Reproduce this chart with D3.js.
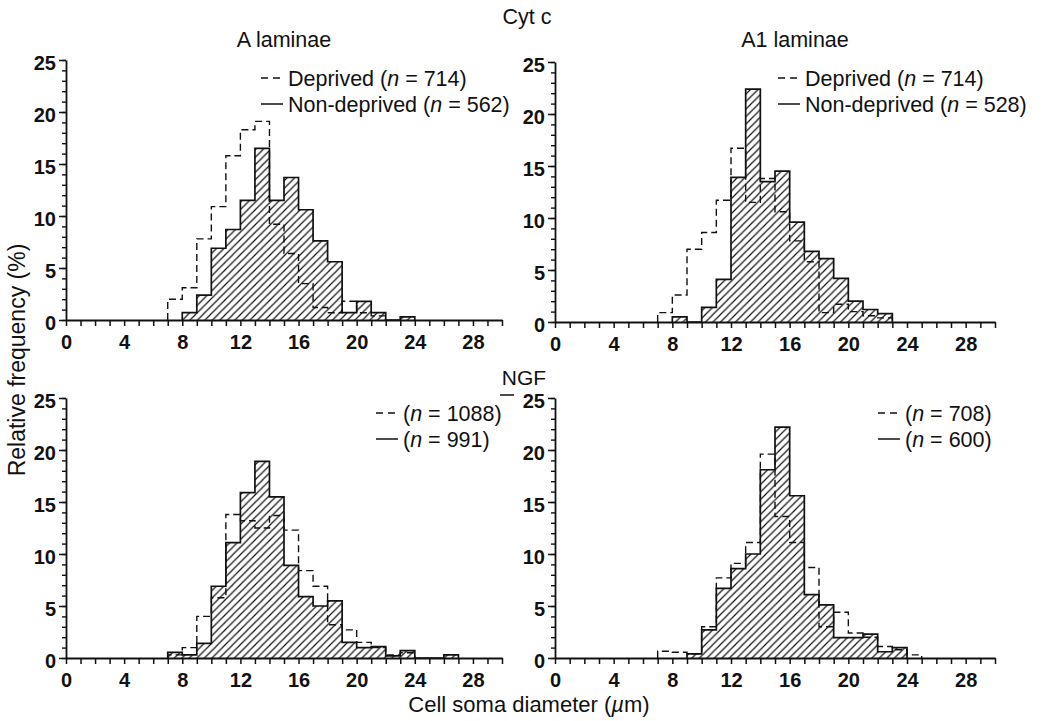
<!DOCTYPE html>
<html><head><meta charset="utf-8">
<script src="https://cdn.jsdelivr.net/npm/d3@7/dist/d3.min.js"></script>
<style>
body{margin:0;background:#fff}
text{font-family:"Liberation Sans",Arial,Helvetica,sans-serif;fill:#111}
</style></head>
<body><svg id="chart" width="1043" height="721"></svg>
<script>
// ---------- data (relative frequency %, 1-µm bins; first value belongs to bin starting at *Start) ----------
const xTickLabels = [0, 4, 8, 12, 16, 20, 24, 28];
const yTickLabels = [0, 5, 10, 15, 20, 25];

// Cyt c, A laminae
const cytA_nonStart = 8;
const cytA_non = [0.7, 2.4, 6.9, 8.7, 11.5, 16.5, 11.5, 13.7, 10.6, 7.6, 5.6, 0.7, 1.8, 0.7, 0, 0.3];
const cytA_depStart = 7;
const cytA_dep = [2.0, 3.1, 7.8, 10.9, 15.8, 18.3, 19.1, 9.2, 6.4, 3.5, 1.2, 0.7, 1.8, 0.7, 0.4];

// Cyt c, A1 laminae
const cytA1_nonStart = 8;
const cytA1_non = [0.5, 0, 1.4, 4.1, 13.9, 22.4, 13.5, 14.5, 9.6, 6.8, 6.1, 4.2, 2.0, 1.2, 0.8];
const cytA1_depStart = 7;
const cytA1_dep = [0.9, 2.6, 7.0, 8.6, 11.7, 16.7, 11.5, 13.8, 10.6, 7.8, 5.8, 0.9, 1.7, 1.0, 0.6, 0.4];

// NGF, A laminae
const ngfA_nonStart = 7;
const ngfA_non = [0.55, 0.3, 1.4, 6.9, 11.1, 15.9, 18.9, 15.5, 8.9, 5.9, 5.0, 5.5, 1.5, 1.0, 1.1, 0.2, 0.7, 0, 0, 0.3];
const ngfA_depStart = 7;
const ngfA_dep = [0.3, 1.0, 4.0, 5.8, 13.8, 13.2, 12.5, 13.7, 12.3, 8.4, 6.9, 3.2, 2.7, 1.5, 1.0, 0.3, 0.5];

// NGF, A1 laminae
const ngfA1_nonStart = 9;
const ngfA1_non = [0.4, 2.7, 6.7, 8.6, 10.0, 18.1, 22.2, 15.6, 6.1, 5.1, 1.95, 1.95, 2.3, 0.6, 1.0];
const ngfA1_depStart = 7;
const ngfA1_dep = [0.65, 0.55, 0.4, 3.0, 7.7, 9.1, 11.1, 19.6, 13.6, 11.1, 8.7, 3.0, 4.4, 2.4, 2.0, 1.1, 0.8, 0.3];

const legendA_cyt  = [["Deprived (", "n", " = 714)"], ["Non-deprived (", "n", " = 562)"]];
const legendA1_cyt = [["Deprived (", "n", " = 714)"], ["Non-deprived (", "n", " = 528)"]];
const legendA_ngf  = [["(", "n", " = 1088)"], ["(", "n", " = 991)"]];
const legendA1_ngf = [["(", "n", " = 708)"], ["(", "n", " = 600)"]];

// ---------- layout ----------
const panels = [
  {xr:[66,502],  yr:[320,60],  non:cytA_non,  ns:cytA_nonStart,  dep:cytA_dep,  ds:cytA_depStart,  leg:legendA_cyt,  lx:261, ly:78},
  {xr:[555,995], yr:[322,62],  non:cytA1_non, ns:cytA1_nonStart, dep:cytA1_dep, ds:cytA1_depStart, leg:legendA1_cyt, lx:778, ly:78},
  {xr:[66,502],  yr:[658,398], non:ngfA_non,  ns:ngfA_nonStart,  dep:ngfA_dep,  ds:ngfA_depStart,  leg:legendA_ngf,  lx:376, ly:413},
  {xr:[555,995], yr:[658,398], non:ngfA1_non, ns:ngfA1_nonStart, dep:ngfA1_dep, ds:ngfA1_depStart, leg:legendA1_ngf, lx:878, ly:413}
];

const svg = d3.select("#chart");
const defs = svg.append("defs");
const pat = defs.append("pattern").attr("id","hatch").attr("patternUnits","userSpaceOnUse")
  .attr("width",7.5).attr("height",7.5);
pat.append("path").attr("d","M-2,2 L2,-2 M0,7.5 L7.5,0 M5.5,9.5 L9.5,5.5")
  .attr("stroke","#111").attr("stroke-width",1.2).attr("fill","none");

function stepPoints(start, vals){
  const pts = [{b:start, v:0}];
  vals.forEach((v,i)=>pts.push({b:start+i, v:v}));
  pts.push({b:start+vals.length, v:0});
  return pts;
}

panels.forEach(p=>{
  const x = d3.scaleLinear().domain([0,30]).range(p.xr);
  const y = d3.scaleLinear().domain([0,25]).range(p.yr);
  const g = svg.append("g");

  const line = d3.line().x(d=>x(d.b)).y(d=>y(d.v)).curve(d3.curveStepAfter);

  // non-deprived: hatched, solid outline
  g.append("path").attr("d", line(stepPoints(p.ns,p.non)) + "Z")
    .attr("fill","url(#hatch)").attr("stroke","none");
  g.append("path").attr("d", line(stepPoints(p.ns,p.non)))
    .attr("fill","none").attr("stroke","#111").attr("stroke-width",1.7);
  // deprived: dashed outline
  g.append("path").attr("d", line(stepPoints(p.ds,p.dep)))
    .attr("fill","none").attr("stroke","#111").attr("stroke-width",1.4)
    .attr("stroke-dasharray","7,4");

  // x axis
  const xa = g.append("g").attr("transform",`translate(0,${p.yr[0]})`)
    .call(d3.axisBottom(x).tickValues(d3.range(0,31)).tickSize(6).tickSizeOuter(0)
      .tickPadding(9).tickFormat(d=> xTickLabels.includes(d) ? d : ""));
  xa.select(".domain").attr("stroke","#111").attr("stroke-width",1.8);
  xa.selectAll(".tick line").attr("stroke","#111").attr("stroke-width",1.5);
  xa.selectAll(".tick text").attr("font-size",20).attr("font-weight","bold")
    .style("font-family","Liberation Sans, Arial, sans-serif").attr("fill","#111");

  // y axis (minor + major)
  const ya = g.append("g").attr("transform",`translate(${p.xr[0]},0)`)
    .call(d3.axisLeft(y).tickValues(d3.range(0,26)).tickSize(4).tickSizeOuter(0).tickFormat(""));
  ya.select(".domain").attr("stroke","#111").attr("stroke-width",1.8);
  ya.selectAll(".tick line").attr("stroke","#111").attr("stroke-width",1.4);
  const yb = g.append("g").attr("transform",`translate(${p.xr[0]},0)`)
    .call(d3.axisLeft(y).tickValues(yTickLabels).tickSize(7).tickPadding(3));
  yb.select(".domain").remove();
  yb.selectAll(".tick line").attr("stroke","#111").attr("stroke-width",1.5);
  yb.selectAll(".tick text").attr("font-size",20).attr("font-weight","bold").attr("dy","0.45em")
    .style("font-family","Liberation Sans, Arial, sans-serif").attr("fill","#111");

  // legend
  p.leg.forEach((parts,i)=>{
    const yy = p.ly + i*26;
    const lg = g.append("line").attr("x1",p.lx).attr("x2",p.lx+22).attr("y1",yy).attr("y2",yy)
      .attr("stroke","#111").attr("stroke-width",1.5);
    if(i===0) lg.attr("stroke-dasharray","7,5");
    const t = g.append("text").attr("x",p.lx+27).attr("y",yy+7.5).attr("font-size",21.5);
    t.append("tspan").text(parts[0]);
    t.append("tspan").attr("font-style","italic").text(parts[1]);
    t.append("tspan").text(parts[2]);
  });
});

// titles
svg.append("text").attr("x",527).attr("y",24).attr("text-anchor","middle").attr("font-size",21.5).text("Cyt c");
svg.append("text").attr("x",284).attr("y",47).attr("text-anchor","middle").attr("font-size",21.5).text("A laminae");
svg.append("text").attr("x",795).attr("y",47).attr("text-anchor","middle").attr("font-size",21.5).text("A1 laminae");
svg.append("text").attr("x",524).attr("y",385).attr("text-anchor","middle").attr("font-size",21).text("NGF");
svg.append("line").attr("x1",500).attr("x2",514).attr("y1",395).attr("y2",395).attr("stroke","#111").attr("stroke-width",1.5);

// axis titles
svg.append("text").attr("transform","translate(25,360) rotate(-90)").attr("text-anchor","middle")
  .attr("font-size",23).text("Relative frequency (%)");
const xt = svg.append("text").attr("x",529).attr("y",712).attr("text-anchor","middle").attr("font-size",22);
xt.append("tspan").text("Cell soma diameter (");
xt.append("tspan").attr("font-style","italic").text("\u00b5");
xt.append("tspan").text("m)");
</script></body></html>
